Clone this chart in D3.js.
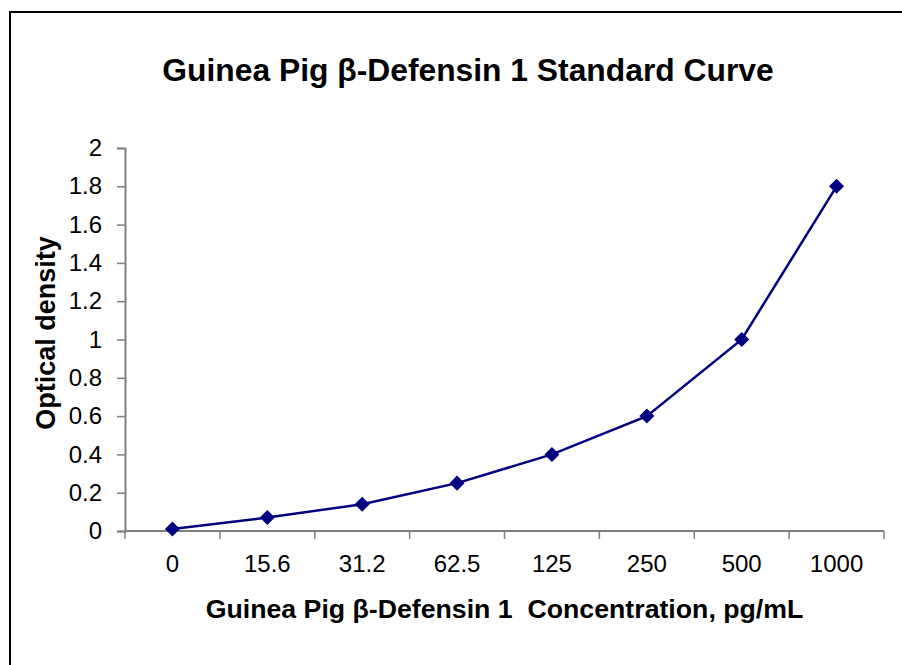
<!DOCTYPE html>
<html>
<head>
<meta charset="utf-8">
<script src="https://cdn.jsdelivr.net/npm/d3@7"></script>
<style>
  body { margin: 0; background: #fff; }
  svg { display: block; font-family: Arial, "Liberation Sans", sans-serif; }
</style>
</head>
<body>
<svg id="chart" width="902" height="665"></svg>
<script>
// chart data
const concentrations = ["0", "15.6", "31.2", "62.5", "125", "250", "500", "1000"];
const opticalDensity = [0.01, 0.07, 0.14, 0.25, 0.4, 0.6, 1.0, 1.8];
const yTicks = [0, 0.2, 0.4, 0.6, 0.8, 1, 1.2, 1.4, 1.6, 1.8, 2];

const chartTitle = "Guinea Pig \u03b2-Defensin 1 Standard Curve";
const xTitle = "Guinea Pig \u03b2-Defensin 1\u00a0 Concentration, pg/mL";
const yTitle = "Optical density";

const margin = { left: 125, right: 902 - 884, top: 148, bottom: 665 - 531 };
const width = 902, height = 665;

const svg = d3.select("#chart");

// outer frame (runs off the right and bottom edge)
svg.append("path")
    .attr("d", "M10,700 L10,12 L920,12")
    .attr("fill", "none")
    .attr("stroke", "#000")
    .attr("stroke-width", 2);

const x = d3.scaleBand()
    .domain(concentrations)
    .range([margin.left, width - margin.right]);

const y = d3.scaleLinear()
    .domain([0, 2])
    .range([height - margin.bottom, margin.top]);

// y axis
const yAxis = svg.append("g")
    .attr("transform", "translate(" + margin.left + ",0)")
    .call(d3.axisLeft(y).tickValues(yTicks).tickSize(8).tickPadding(15)
        .tickFormat(d3.format("~g")));
yAxis.select(".domain").attr("stroke", "#808080").attr("stroke-width", 2);
yAxis.selectAll(".tick line").attr("stroke", "#808080").attr("stroke-width", 1.5);
yAxis.selectAll("text").attr("font-size", 24).attr("fill", "#000")
    .attr("font-family", "Arial, 'Liberation Sans', sans-serif");

// x axis - ticks sit between categories
const xAxis = svg.append("g")
    .attr("transform", "translate(0," + (height - margin.bottom) + ")");
xAxis.append("line")
    .attr("x1", margin.left).attr("x2", width - margin.right)
    .attr("stroke", "#808080").attr("stroke-width", 2);
const boundaries = concentrations.map(c => x(c)).concat([x.range()[1]]);
xAxis.selectAll(".tk").data(boundaries).enter().append("line")
    .attr("x1", d => d).attr("x2", d => d)
    .attr("y1", 0).attr("y2", 8)
    .attr("stroke", "#808080").attr("stroke-width", 1.5);
xAxis.selectAll(".lbl").data(concentrations).enter().append("text")
    .attr("x", d => x(d) + x.bandwidth() / 2)
    .attr("y", 41)
    .attr("text-anchor", "middle")
    .attr("font-size", 24)
    .text(d => d);

// line + markers
const points = concentrations.map((c, i) => ({ c: c, v: opticalDensity[i] }));
const line = d3.line()
    .x(d => x(d.c) + x.bandwidth() / 2)
    .y(d => y(d.v));

svg.append("path")
    .datum(points)
    .attr("d", line)
    .attr("fill", "none")
    .attr("stroke", "#000080")
    .attr("stroke-width", 2.5);

svg.selectAll(".pt").data(points).enter().append("path")
    .attr("d", d3.symbol().type(d3.symbolDiamond2).size(144))
    .attr("transform", d => "translate(" + (x(d.c) + x.bandwidth() / 2) + "," + y(d.v) + ")")
    .attr("fill", "#000080");

// titles
svg.append("text")
    .attr("x", 468).attr("y", 81)
    .attr("text-anchor", "middle")
    .attr("font-size", 31.8).attr("font-weight", "bold")
    .text(chartTitle);

svg.append("text")
    .attr("x", (margin.left + width - margin.right) / 2).attr("y", 618)
    .attr("text-anchor", "middle")
    .attr("font-size", 26.7).attr("font-weight", "bold")
    .text(xTitle);

svg.append("text")
    .attr("transform", "translate(55,333) rotate(-90)")
    .attr("text-anchor", "middle")
    .attr("font-size", 27).attr("font-weight", "bold")
    .text(yTitle);
</script>
</body>
</html>
